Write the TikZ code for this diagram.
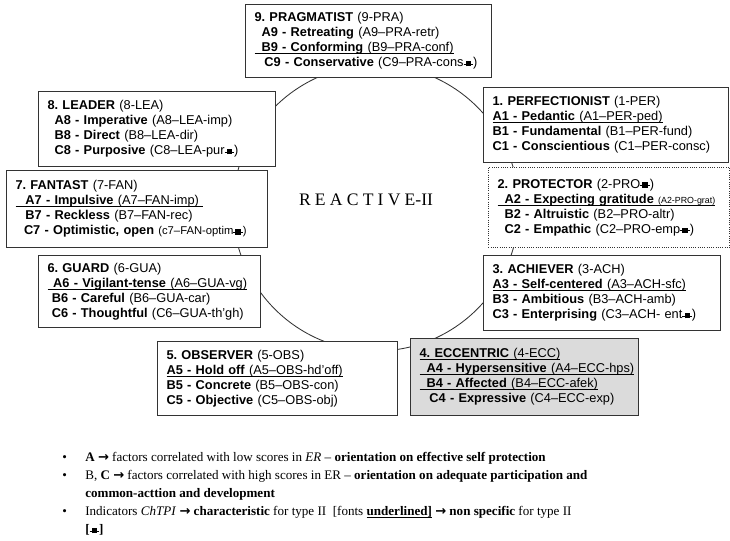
\documentclass[tikz,border=0pt]{standalone}
\usepackage{fontspec}
\setmainfont{Liberation Serif}
\newfontfamily\arialfont[Ligatures=TeX]{Liberation Sans}
\newfontfamily\arrowfont{DejaVu Sans}
\newfontfamily\spacedfont[LetterSpace=24]{Liberation Serif}
\usetikzlibrary{positioning}
\frenchspacing
% small "not specific" mark
\newcommand{\nsmark}{\rule[0.32ex]{1.5pt}{0.7pt}\rule[0.05ex]{3.8pt}{3.8pt}\rule[0.32ex]{1.5pt}{0.7pt}}
\newcommand{\rarr}{{\arrowfont\bfseries →}}
\newcommand{\ind}{\hspace*{5pt}}
% underline just below the baseline
\newcommand{\undl}[1]{\leavevmode{\setbox0\hbox{#1}\rlap{\rule[-1.6pt]{\wd0}{0.65pt}}\box0}}
\tikzset{
    typebox/.style 2 args={draw=black!80, line width=0.6pt, fill=white, anchor=north west,
        align=left, inner xsep=6.5pt, inner ysep=2pt,
        text width={#1*0.025cm-13pt}, minimum height={#2*0.025cm},
        font=\arialfont\fontsize{9.1}{10.7}\selectfont},
    notes/.style={anchor=north west, align=left, inner sep=0pt,
        font=\fontsize{9.3}{12.8}\selectfont},
    ring/.style={draw=black!80, line width=0.6pt},
}

\begin{document}
\begin{tikzpicture}[x=0.025cm, y=-0.025cm]
    \useasboundingbox (0,0) rectangle (730,540);
    \fill[white] (0,0) rectangle (730,540);

    % big circle behind the types
    \coordinate (hub) at (376,208);
    \draw[ring] (hub) circle[radius=3.575cm];
    \node[font=\fontsize{12.5}{14}\selectfont] (title) at (366,200) {{\spacedfont REACTIVE}-II};

    % top
    \node[typebox={246}{73}] (pra) at (245,4) {%
        \textbf{9. PRAGMATIST} (9-PRA)\\
        \ind\textbf{A9 - Retreating} (A9–PRA-retr)\\
        \undl{\ind\textbf{B9 - Conforming} (B9–PRA-conf)}\\
        \hspace*{7pt}\textbf{C9 - Conservative} (C9–PRA-cons\nsmark)};

    % left side
    \node[typebox={237}{75}] (lea) at (38,91) {%
        \textbf{8. LEADER} (8-LEA)\\
        \ind\textbf{A8 - Imperative} (A8–LEA-imp)\\
        \ind\textbf{B8 - Direct} (B8–LEA-dir)\\
        \ind\textbf{C8 - Purposive} (C8–LEA-pur\nsmark)};
    \node[typebox={261}{77}] (fan) at (6,170) {%
        \textbf{7. FANTAST} (7-FAN)\\
        \undl{\hspace*{7pt}\textbf{A7 - Impulsive} (A7–FAN-imp)\ }\\
        \hspace*{7pt}\textbf{B7 - Reckless} (B7–FAN-rec)\\
        \hspace*{6pt}\textbf{C7 - Optimistic, open} {\fontsize{8}{10}\selectfont(c7–FAN-optim\nsmark)}};
    \node[typebox={222}{72}] (gua) at (38,255) {%
        \textbf{6. GUARD} (6-GUA)\\
        \undl{\hspace*{4pt}\textbf{A6 - Vigilant-tense} (A6–GUA-vg)}\\
        \hspace*{3pt}\textbf{B6 - Careful} (B6–GUA-car)\\
        \hspace*{3pt}\textbf{C6 - Thoughtful} (C6–GUA-th'gh)};

    % bottom
    \node[typebox={240}{74}] (obs) at (157,341) {%
        \textbf{5. OBSERVER} (5-OBS)\\
        \undl{\textbf{A5 - Hold off} (A5–OBS-hd'off)}\\
        \textbf{B5 - Concrete} (B5–OBS-con)\\
        \textbf{C5 - Objective} (C5–OBS-obj)};
    \node[typebox={228}{77}, fill=black!14] (ecc) at (410,338) {%
        \undl{\textbf{4. ECCENTRIC} (4-ECC)}\\
        \undl{\ind\textbf{A4 - Hypersensitive} (A4–ECC-hps)}\\
        \undl{\ind\textbf{B4 - Affected} (B4–ECC-afek)}\\
        \hspace*{7pt}\textbf{C4 - Expressive} (C4–ECC-exp)};

    % right side
    \node[typebox={245}{75}] (per) at (483,87) {%
        \textbf{1. PERFECTIONIST} (1-PER)\\
        \undl{\textbf{A1 - Pedantic} (A1–PER-ped)}\\
        \textbf{B1 - Fundamental} (B1–PER-fund)\\
        \textbf{C1 - Conscientious} (C1–PER-consc)};
    \node[typebox={241}{80}, densely dotted] (pro) at (488,167) {%
        \textbf{2. PROTECTOR} (2-PRO\nsmark)\\
        \undl{\ind\textbf{A2 - Expecting gratitude} {\fontsize{6.3}{7}\selectfont(A2-PRO-grat)}}\\
        \ind\textbf{B2 - Altruistic} (B2–PRO-altr)\\
        \ind\textbf{C2 - Empathic} (C2–PRO-emp\nsmark)};
    \node[typebox={237}{75}] (ach) at (483,255) {%
        \textbf{3. ACHIEVER} (3-ACH)\\
        \undl{\textbf{A3 - Self-centered} (A3–ACH-sfc)}\\
        \textbf{B3 - Ambitious} (B3–ACH-amb)\\
        \textbf{C3 - Enterprising} (C3–ACH- ent\nsmark)};

    % legend
    \node[notes] (legend) at (62,452) {%
        \makebox[0.575cm][l]{\textbullet}\textbf{A} \rarr{} factors correlated with low scores in \textit{ER} – \textbf{orientation on effective self protection}\\
        \makebox[0.575cm][l]{\textbullet}B, \textbf{C} \rarr{} factors correlated with high scores in ER – \textbf{orientation on adequate participation and}\\
        \hspace*{0.575cm}\textbf{common-acttion and development}\\
        \makebox[0.575cm][l]{\textbullet}Indicators \textit{ChTPI} \rarr{} \textbf{characteristic} for type II\ \ [fonts \undl{\textbf{underlined]}} \rarr{} \textbf{non specific} for type II\\
        \hspace*{0.575cm}\textbf{[\nsmark]}};
\end{tikzpicture}
\end{document}
